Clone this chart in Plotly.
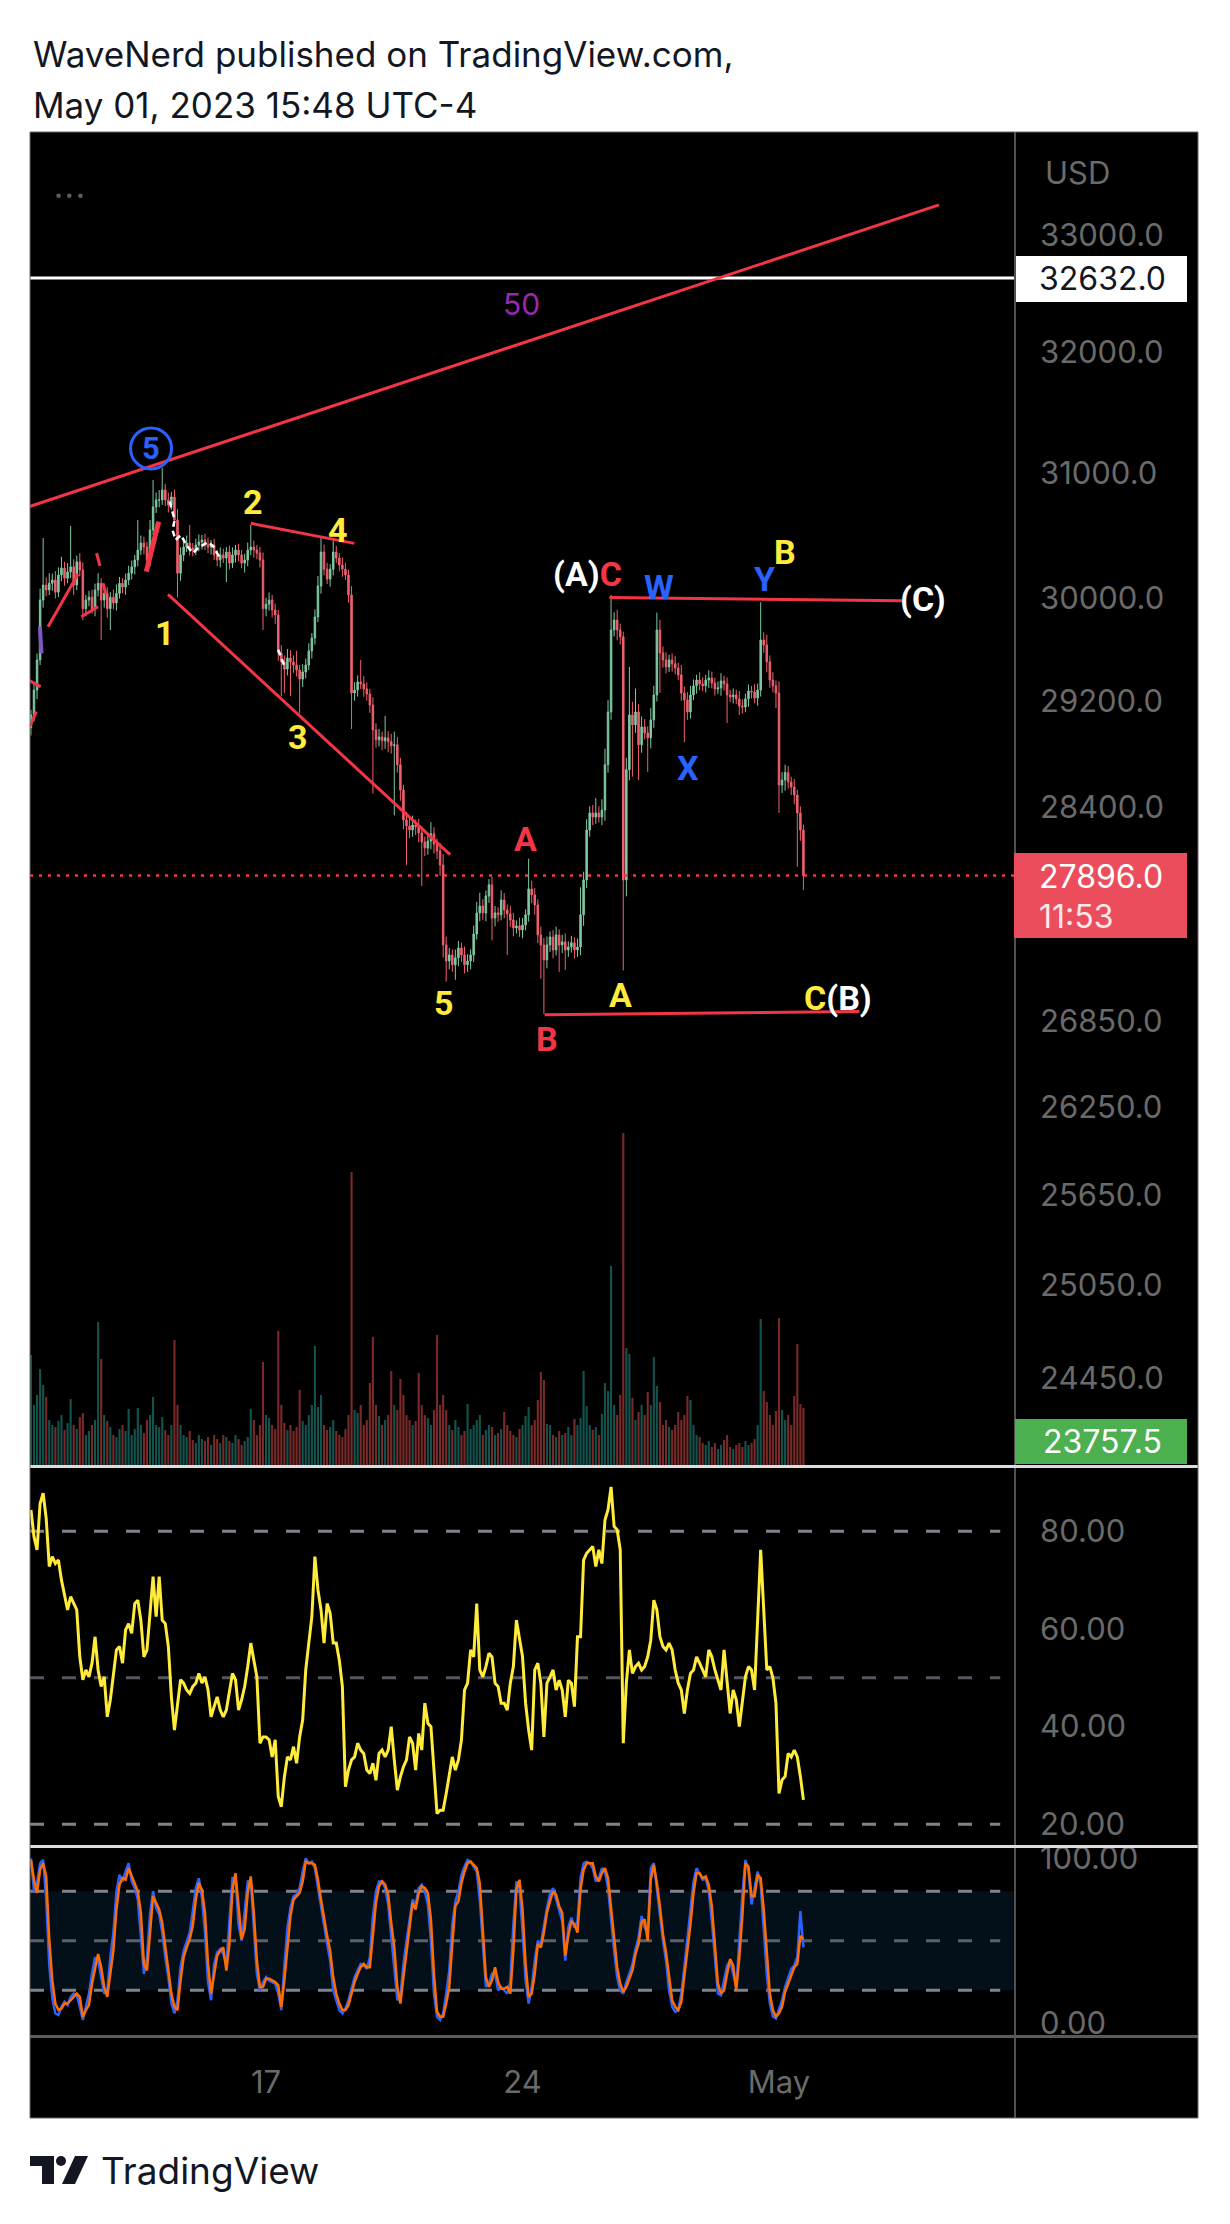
import math
import pandas as pd
import plotly.graph_objects as go

# ---------------- data ----------------
bar_start = "2023-04-10 14:00"
bar_freq = "2h"
first_open = 29000

closes = [
    29097, 29288, 29520, 29988, 30106, 30067, 30120, 30146, 30050, 30186,
    30240, 30160, 30210, 30250, 30106, 30290, 30225, 29920, 29988, 30010,
    29920, 30067, 30120, 29988, 30040, 29920, 30010, 29965, 30040, 30120,
    30090, 30146, 30200, 30250, 30305, 30384, 30440, 30408, 30305, 30544,
    30730, 30786, 30786, 30867, 30786, 30745, 30810, 30625, 30200, 30345,
    30408, 30440, 30400, 30384, 30424, 30448, 30464, 30424, 30408, 30424,
    30345, 30305, 30345, 30320, 30368, 30280, 30345, 30384, 30345, 30280,
    30305, 30384, 30408, 30384, 30360, 30305, 29920, 29955, 29988, 29910,
    29870, 29575, 29505, 29450, 29535, 29505, 29481, 29442, 29372, 29427,
    29481, 29590, 29690, 29855, 30098, 30368, 30232, 30154, 30232, 30368,
    30320, 30265, 30232, 30186, 30028, 29265, 29288, 29350, 29335, 29296,
    29257, 29173, 28983, 28908, 28930, 28900, 28923, 28893, 28863, 28870,
    28720, 28529, 28306, 28262, 28232, 28269, 28254, 28210, 28143, 28099,
    28150, 28203, 28128, 28077, 27974, 27393, 27278, 27321, 27250, 27300,
    27371, 27321, 27250, 27278, 27321, 27472, 27624, 27674, 27624, 27747,
    27828, 27587, 27624, 27610, 27718, 27645, 27617, 27573, 27515, 27530,
    27501, 27537, 27610, 27798, 27755, 27682, 27465, 27393, 27285, 27393,
    27450, 27357, 27465, 27393, 27415, 27357, 27378, 27408, 27357, 27378,
    27610, 27864, 28232, 28358, 28328, 28358, 28328, 28380, 28720, 29120,
    29753, 29831, 29753, 29700, 27864, 28682, 29097, 29021, 29120, 28870,
    29006, 28960, 28923, 29059, 29250, 29753, 29575, 29520, 29466, 29520,
    29490, 29458, 29404, 29265, 29212, 29120, 29250, 29320, 29365, 29335,
    29320, 29365, 29380, 29342, 29296, 29304, 29358, 29335, 29250, 29235,
    29250, 29220, 29166, 29158, 29220, 29280, 29273, 29227, 29288, 29675,
    29636, 29505, 29365, 29320, 29265, 28567, 28604, 28660, 28590, 28552,
    28492, 28358, 28232, 27896]

wick_up = [
    40, 60, 50, 90, 374, 60, 80, 50, 70, 60,
    90, 50, 70, 326, 60, 50, 70, 60, 40, 50,
    60, 50, 80, 40, 60, 50, 40, 60, 70, 50,
    40, 50, 60, 50, 40, 241, 60, 50, 40, 80,
    218, 60, 80, 178, 50, 60, 40, 60, 90, 60,
    50, 60, 144, 40, 50, 60, 40, 50, 60, 40,
    50, 40, 60, 50, 40, 50, 60, 40, 50, 40,
    50, 60, 176, 50, 40, 50, 60, 50, 60, 40,
    50, 40, 60, 50, 70, 60, 50, 110, 40, 60,
    50, 60, 40, 60, 80, 112, 60, 50, 40, 96,
    50, 40, 60, 50, 40, 70, 60, 50, 170, 60,
    50, 40, 60, 50, 60, 40, 167, 50, 60, 100,
    60, 50, 40, 60, 50, 70, 40, 60, 50, 40,
    60, 87, 50, 40, 60, 80, 60, 50, 40, 60,
    50, 40, 60, 50, 40, 60, 80, 96, 50, 40,
    42, 60, 50, 40, 70, 50, 40, 60, 50, 40,
    60, 50, 40, 222, 60, 50, 40, 60, 50, 60,
    40, 50, 60, 40, 50, 60, 40, 50, 40, 60,
    200, 60, 80, 50, 60, 112, 50, 80, 120, 90,
    274, 60, 80, 50, 40, 90, 369, 100, 180, 60,
    80, 60, 50, 90, 70, 137, 80, 50, 60, 40,
    50, 60, 40, 77, 50, 60, 70, 50, 40, 60,
    50, 40, 60, 50, 40, 50, 60, 40, 50, 40,
    50, 40, 60, 50, 40, 50, 40, 60, 50, 295,
    60, 80, 50, 60, 40, 90, 60, 60, 50, 40,
    60, 40, 50, 40]

wick_dn = [
    60, 50, 70, 40, 60, 50, 40, 60, 50, 40,
    50, 60, 40, 50, 80, 40, 50, 90, 60, 50,
    40, 60, 50, 313, 60, 70, 167, 50, 60, 40,
    50, 60, 40, 50, 60, 50, 40, 60, 70, 50,
    40, 50, 60, 40, 50, 60, 40, 50, 190, 60,
    50, 40, 60, 50, 40, 50, 60, 40, 50, 60,
    40, 50, 60, 40, 190, 50, 40, 60, 50, 40,
    75, 50, 40, 60, 50, 60, 167, 60, 50, 60,
    70, 60, 265, 185, 50, 263, 60, 50, 262, 60,
    50, 40, 60, 50, 40, 60, 50, 40, 60, 50,
    40, 50, 60, 40, 60, 275, 60, 50, 40, 60,
    50, 60, 480, 60, 50, 70, 60, 80, 60, 523,
    60, 80, 70, 288, 60, 50, 60, 70, 323, 60,
    50, 60, 70, 60, 80, 90, 148, 60, 50, 107,
    60, 50, 60, 50, 60, 50, 40, 60, 50, 60,
    50, 162, 60, 50, 40, 60, 297, 50, 60, 40,
    50, 60, 40, 50, 60, 70, 60, 243, 385, 60,
    50, 60, 40, 193, 60, 143, 50, 40, 60, 50,
    60, 80, 60, 50, 60, 50, 40, 60, 80, 60,
    60, 50, 80, 60, 654, 120, 80, 391, 60, 266,
    60, 50, 257, 80, 60, 50, 310, 60, 50, 40,
    60, 50, 40, 60, 322, 60, 50, 40, 60, 50,
    40, 50, 60, 40, 50, 40, 60, 50, 214, 40,
    50, 40, 69, 50, 40, 60, 50, 40, 60, 50,
    60, 80, 60, 50, 115, 209, 60, 80, 50, 60,
    70, 398, 80, 105]

volume = [
    110, 60, 70, 96, 80, 68, 45, 40, 38, 44,
    50, 35, 42, 66, 40, 36, 48, 52, 30, 34,
    40, 45, 143, 106, 50, 44, 38, 30, 28, 36,
    40, 34, 56, 30, 36, 57, 40, 32, 45, 50,
    68, 40, 38, 48, 35, 30, 40, 125, 60, 40,
    30, 28, 34, 25, 22, 30, 26, 24, 28, 20,
    30, 26, 22, 30, 28, 24, 22, 30, 26, 20,
    24, 28, 56, 45, 30, 40, 103, 50, 47, 40,
    36, 134, 60, 42, 35, 40, 34, 38, 75, 44,
    40, 50, 60, 119, 58, 70, 40, 35, 38, 45,
    34, 30, 28, 36, 50, 293, 55, 52, 60, 40,
    45, 82, 128, 60, 49, 40, 45, 50, 94, 60,
    55, 86, 70, 50, 45, 40, 44, 92, 60, 50,
    47, 40, 55, 130, 60, 70, 55, 40, 35, 45,
    38, 30, 34, 61, 36, 40, 45, 50, 30, 35,
    40, 38, 30, 32, 36, 53, 40, 34, 30, 28,
    36, 40, 49, 58, 40, 45, 65, 93, 85, 41,
    40, 30, 28, 34, 30, 32, 38, 30, 46, 40,
    47, 94, 59, 40, 35, 38, 30, 51, 82, 74,
    199, 60, 50, 70, 332, 117, 111, 67, 45, 53,
    60, 50, 73, 60, 108, 79, 63, 40, 45, 38,
    35, 40, 53, 45, 50, 69, 65, 40, 30, 28,
    22, 20, 24, 18, 22, 16, 20, 25, 30, 18,
    16, 20, 22, 18, 24, 20, 22, 26, 40, 146,
    74, 63, 50, 40, 54, 147, 55, 45, 50, 40,
    69, 121, 61, 57]

rsi = [
    84.4, 78.9, 76.2, 85.7, 87.8, 82.6, 72.8, 74.8, 73.4, 74.1,
    70.0, 66.6, 63.9, 66.6, 65.2, 63.9, 54.3, 49.6, 51.6, 50.2,
    53.0, 58.4, 51.6, 48.2, 50.2, 42.0, 45.5, 50.2, 55.7, 56.4,
    53.0, 59.8, 61.1, 59.1, 65.2, 65.9, 61.8, 54.3, 55.7, 63.2,
    70.7, 62.5, 70.7, 61.8, 61.1, 56.4, 46.1, 39.3, 44.8, 49.6,
    48.9, 47.5, 46.8, 48.2, 48.9, 50.9, 48.9, 50.2, 47.5, 42.0,
    44.1, 46.1, 43.4, 42.0, 43.4, 47.5, 50.9, 49.6, 43.4, 45.5,
    48.2, 52.3, 57.1, 53.6, 50.2, 36.6, 37.9, 37.9, 37.3, 33.8,
    37.3, 25.7, 23.6, 29.7, 33.8, 33.2, 35.9, 32.5, 37.9, 41.4,
    51.6, 57.1, 62.5, 74.8, 68.0, 63.9, 57.1, 65.2, 63.2, 57.1,
    57.1, 53.6, 48.2, 27.7, 31.1, 33.2, 33.8, 36.6, 35.2, 34.5,
    31.1, 30.4, 32.5, 29.0, 34.5, 35.2, 33.8, 35.2, 40.0, 33.2,
    27.0, 29.7, 31.8, 33.2, 37.9, 36.6, 31.1, 38.6, 35.2, 44.8,
    40.7, 40.0, 31.1, 22.2, 22.9, 22.9, 26.3, 30.4, 33.8, 31.1,
    33.2, 37.3, 47.5, 48.9, 55.7, 54.3, 65.2, 51.6, 50.2, 52.3,
    55.0, 54.3, 48.9, 48.2, 44.8, 44.8, 43.4, 48.9, 52.3, 61.8,
    57.7, 54.3, 44.8, 39.3, 35.2, 51.6, 53.0, 48.9, 37.9, 48.9,
    50.2, 51.6, 47.5, 49.5, 47.5, 42.0, 49.5, 48.9, 44.1, 58.4,
    58.4, 74.1, 75.5, 76.2, 76.9, 72.8, 76.2, 73.4, 82.3, 84.4,
    89.1, 81.0, 80.3, 76.2, 36.6, 48.9, 55.7, 50.9, 52.3, 53.0,
    51.6, 52.3, 54.3, 57.7, 65.9, 63.9, 58.4, 56.4, 55.7, 57.1,
    55.7, 51.6, 48.9, 47.5, 42.7, 47.5, 50.9, 51.6, 54.3, 53.0,
    51.6, 50.2, 55.7, 54.3, 51.6, 49.5, 47.5, 55.7, 48.9, 42.7,
    47.5, 45.5, 40.0, 44.8, 50.2, 52.3, 51.6, 47.5, 62.5, 76.2,
    63.9, 51.6, 52.3, 50.0, 44.8, 26.3, 29.1, 29.8, 34.5, 33.8,
    35.2, 33.8, 29.8, 25.0]

stoch_k = [
    100, 80, 85, 97, 99, 75, 35, 15, 6, 5,
    10, 13, 11, 16, 18, 17, 10, 2, 10, 18,
    30, 40, 38, 28, 18, 20, 40, 55, 80, 90,
    86, 92, 97, 86, 82, 75, 50, 30, 40, 66,
    80, 70, 66, 55, 40, 28, 12, 6, 14, 34,
    44, 49, 55, 68, 82, 88, 76, 55, 25, 14,
    36, 43, 45, 42, 35, 62, 88, 88, 60, 50,
    66, 86, 86, 55, 30, 20, 25, 28, 26, 25,
    24, 18, 8, 35, 58, 70, 77, 78, 82, 92,
    100, 97, 98, 94, 82, 70, 58, 48, 38, 20,
    14, 8, 6, 9, 14, 22, 28, 32, 36, 35,
    33, 40, 65, 80, 86, 86, 82, 72, 54, 35,
    14, 16, 36, 50, 64, 75, 72, 82, 84, 80,
    72, 50, 18, 4, 2, 6, 18, 32, 60, 74,
    80, 90, 95, 99, 98, 95, 92, 75, 45, 22,
    24, 30, 30, 20, 22, 20, 18, 25, 60, 86,
    82, 56, 26, 12, 22, 38, 50, 48, 60, 70,
    78, 82, 75, 68, 62, 38, 58, 64, 58, 62,
    88, 97, 98, 97, 94, 86, 88, 94, 92, 82,
    62, 44, 28, 20, 18, 25, 30, 36, 45, 52,
    65, 58, 55, 94, 97, 80, 66, 50, 38, 20,
    10, 7, 8, 18, 34, 52, 68, 86, 94, 90,
    87, 88, 80, 62, 38, 18, 17, 25, 35, 38,
    30, 22, 50, 78, 99, 92, 72, 82, 92, 84,
    58, 30, 12, 4, 3, 8, 14, 22, 28, 33,
    35, 40, 68, 46]

stoch_d = [
    99, 87, 79, 93, 97, 89, 51, 26, 12, 8,
    9, 12, 12, 14, 16, 18, 16, 4, 8, 11,
    24, 34, 42, 34, 22, 16, 32, 44, 69, 84,
    88, 87, 94, 89, 84, 80, 67, 36, 32, 53,
    77, 73, 69, 61, 46, 34, 18, 10, 8, 26,
    40, 46, 51, 59, 75, 85, 81, 67, 36, 18,
    30, 41, 44, 46, 32, 48, 81, 91, 71, 51,
    57, 79, 89, 67, 38, 22, 22, 27, 27, 26,
    25, 23, 10, 26, 48, 65, 75, 77, 79, 86,
    98, 97, 97, 96, 87, 75, 63, 53, 44, 28,
    18, 12, 8, 8, 11, 18, 25, 30, 34, 36,
    34, 34, 55, 73, 83, 86, 84, 78, 61, 46,
    22, 12, 28, 42, 57, 73, 69, 79, 83, 82,
    79, 63, 30, 7, 4, 4, 12, 22, 48, 71,
    74, 85, 92, 97, 98, 96, 94, 85, 57, 28,
    22, 26, 34, 25, 21, 21, 22, 18, 44, 81,
    87, 69, 36, 16, 18, 30, 48, 46, 55, 67,
    74, 80, 78, 71, 67, 41, 53, 62, 60, 55,
    81, 93, 97, 97, 97, 89, 86, 91, 94, 88,
    71, 53, 34, 24, 19, 22, 27, 32, 42, 48,
    61, 63, 50, 87, 96, 85, 71, 54, 43, 27,
    14, 10, 8, 13, 28, 44, 60, 79, 91, 91,
    88, 89, 84, 71, 48, 24, 18, 20, 30, 39,
    35, 20, 40, 65, 97, 95, 77, 77, 90, 88,
    69, 40, 18, 8, 4, 6, 10, 19, 24, 30,
    34, 36, 53, 51]

price_ticks = [33000, 32000, 31000, 30000, 29200, 28400, 26850, 26250, 25650, 25050, 24450]
rsi_ticks = [80, 60, 40, 20]
rsi_levels = [80, 50, 20]
stoch_ticks = [100, 0]
stoch_levels = [80, 50, 20]
date_ticks = ["2023-04-17", "2023-04-24", "2023-05-01"]
date_tick_labels = ["17", "24", "May"]

last_price = 27896.0
countdown = "11:53"
hline_price = 32632.0
green_label_value = 23757.5

# wave labels: text, time, price, colour key
label_text = ["2", "4", "1", "3", "5", "A", "B", "W", "Y", "B", "(C)", "X", "A"]
label_time = ["2023-04-16 15:27", "2023-04-18 23:17", "2023-04-14 06:00", "2023-04-17 21:04",
              "2023-04-21 20:30", "2023-04-24 01:57", "2023-04-24 16:02",
              "2023-04-27 17:04", "2023-04-30 14:38", "2023-05-01 03:50",
              "2023-05-04 22:12", "2023-04-28 12:04", "2023-04-26 16:11"]
label_price = [30772, 30542, 29727, 28929, 26975, 28163, 26724, 30091, 30154,
               30370, 29996, 28692, 27038]
label_color = ["y", "y", "y", "y", "y", "r", "r", "b", "b", "y", "w", "b", "y"]
ac_time, ac_price = "2023-04-25 18:14", 30190          # "(A)" white + "C" red
cb_time, cb_price = "2023-05-02 14:46", 27014          # "C" yellow + "(B)" white
circle5_time, circle5_price = "2023-04-13 20:40", 31205
fifty_time, fifty_price = "2023-04-23 23:00", 32411

# trend lines drawn on the chart (time, price pairs, None = break)
red_t = ["2023-04-10 12:04", "2023-05-05 08:48", None,
         "2023-04-16 13:57", "2023-04-19 09:52", None,
         "2023-04-14 07:47", "2023-04-22 00:33", None,
         "2023-04-26 08:56", "2023-05-04 08:27", None,
         "2023-04-24 14:28", "2023-05-03 04:40", None,
         "2023-04-11 01:11", "2023-04-11 20:50", None,
         "2023-04-11 23:00", "2023-04-12 09:56", None,
         "2023-04-12 08:58", "2023-04-12 11:14", None,
         "2023-04-12 13:12", "2023-04-12 15:10", None,
         "2023-04-10 12:04", "2023-04-10 20:24", None,
         "2023-04-10 13:10", "2023-04-10 17:31"]
red_p = [30729, 33264, None,
         30598, 30437, None,
         30033, 28049, None,
         30008, 29983, None,
         26896, 26919, None,
         29779, 30194, None,
         29857, 29936, None,
         30360, 30257, None,
         30122, 30035, None,
         29365, 29314, None,
         29007, 29122]
thick_t = ["2023-04-13 17:34", "2023-04-14 01:41"]
thick_p = [30212, 30611]
purple_t = ["2023-04-10 19:52", "2023-04-10 20:55"]
purple_p = [29779, 29572]
white_t = ["2023-04-14 08:53", "2023-04-14 12:10", "2023-04-14 10:44", "2023-04-14 12:42",
           "2023-04-14 16:18", "2023-04-14 20:13", "2023-04-15 00:10", "2023-04-15 03:26",
           "2023-04-15 09:59", "2023-04-15 13:15", "2023-04-15 18:30", None,
           "2023-04-17 07:58", "2023-04-17 12:45"]
white_p = [30772, 30625, 30544, 30464, 30504, 30416, 30360, 30400, 30448, 30416, 30305, None,
           29599, 29452]

# ---------------- styling / layout geometry ----------------
FIG_W, FIG_H = 1230, 2224
LEFT, RIGHT, TOP, BOTTOM = 30, 1198, 132, 2036
AXIS_X = 1015
FRAME_BOTTOM = 2118


def fx(p):
    return (p - LEFT) / (RIGHT - LEFT)


def fy(p):
    return (BOTTOM - p) / (BOTTOM - TOP)


GREEN = "#7fc9a3"
RED = "#f0606e"
VOL_UP = "rgba(38,166,154,0.5)"
VOL_DN = "rgba(239,83,80,0.5)"
TICK_GRAY = "#6a6a6a"
COL = {"y": "#ffeb3b", "r": "#f23645", "w": "#ffffff", "b": "#2962ff"}
TRED = "#f23645"
FONT = "Inter, Roboto, sans-serif"
LFONT = "Roboto, Inter, sans-serif"
LSIZE = 34
BOXSIZE = 32

times = pd.date_range(bar_start, periods=len(closes), freq=bar_freq)
opens = [first_open] + closes[:-1]
highs = [max(o, c) + w for o, c, w in zip(opens, closes, wick_up)]
lows = [min(o, c) - w for o, c, w in zip(opens, closes, wick_dn)]
vol_colors = [VOL_UP if c >= o else VOL_DN for o, c in zip(opens, closes)]

x_range = ["2023-04-10 13:23", "2023-05-07 10:35"]
xdom = [0, fx(AXIS_X)]
main_dom = [fy(1465), 1]
rsi_dom = [fy(1845), fy(1468)]
sto_dom = [0, fy(1848)]
price_range = [math.log10(23898), math.log10(33907)]

fig = go.Figure()

fig.add_trace(go.Bar(x=times, y=volume, marker=dict(color=vol_colors, line=dict(width=0)),
                     width=0.7 * 7.2e6, xaxis="x", yaxis="y2", hoverinfo="skip"))
fig.add_trace(go.Candlestick(x=times, open=opens, high=highs, low=lows, close=closes,
                             increasing=dict(line=dict(color=GREEN, width=1), fillcolor=GREEN),
                             decreasing=dict(line=dict(color=RED, width=1), fillcolor=RED),
                             whiskerwidth=0, xaxis="x", yaxis="y", hoverinfo="skip"))

# horizontal lines
fig.add_trace(go.Scatter(x=x_range, y=[hline_price, hline_price], mode="lines",
                         line=dict(color="white", width=3), xaxis="x", yaxis="y", hoverinfo="skip"))
fig.add_trace(go.Scatter(x=x_range, y=[last_price, last_price], mode="lines",
                         line=dict(color=TRED, width=2.5, dash="3px,6px"), xaxis="x", yaxis="y",
                         hoverinfo="skip"))
# drawings
fig.add_trace(go.Scatter(x=red_t, y=red_p, mode="lines", line=dict(color=TRED, width=3),
                         connectgaps=False, xaxis="x", yaxis="y", hoverinfo="skip"))
fig.add_trace(go.Scatter(x=thick_t, y=thick_p, mode="lines", line=dict(color=TRED, width=5),
                         xaxis="x", yaxis="y", hoverinfo="skip"))
fig.add_trace(go.Scatter(x=purple_t, y=purple_p, mode="lines", line=dict(color="#7e57c2", width=4),
                         xaxis="x", yaxis="y", hoverinfo="skip"))
fig.add_trace(go.Scatter(x=white_t, y=white_p, mode="lines",
                         line=dict(color="white", width=2.5, dash="6px,4px"),
                         connectgaps=False, xaxis="x", yaxis="y", hoverinfo="skip"))
fig.add_trace(go.Scatter(x=[circle5_time], y=[circle5_price], mode="markers",
                         marker=dict(symbol="circle-open", size=41, color="#2962ff",
                                     line=dict(width=3, color="#2962ff")),
                         xaxis="x", yaxis="y", hoverinfo="skip"))

# RSI
fig.add_trace(go.Scatter(x=times, y=rsi, mode="lines", line=dict(color="#ffeb3b", width=3),
                         xaxis="x2", yaxis="y3", hoverinfo="skip"))
# Stochastic
fig.add_trace(go.Scatter(x=times, y=stoch_k, mode="lines", line=dict(color="#2962ff", width=2.5),
                         xaxis="x3", yaxis="y4", hoverinfo="skip"))
fig.add_trace(go.Scatter(x=times, y=stoch_d, mode="lines", line=dict(color="#ff6d00", width=2.5),
                         xaxis="x3", yaxis="y4", hoverinfo="skip"))

axis_common = dict(showgrid=False, zeroline=False, showline=False, ticks="")
tickfont = dict(family=FONT, size=31, color=TICK_GRAY)

fig.update_layout(
    width=FIG_W, height=FIG_H, autosize=False,
    margin=dict(l=LEFT, r=FIG_W - RIGHT, t=TOP, b=FIG_H - BOTTOM, pad=0),
    paper_bgcolor="white", plot_bgcolor="black", showlegend=False,
    font=dict(family=FONT, size=31, color=TICK_GRAY),
    xaxis=dict(domain=xdom, range=x_range, type="date", anchor="y", showticklabels=False,
               rangeslider=dict(visible=False), **axis_common),
    xaxis2=dict(domain=xdom, range=x_range, type="date", anchor="y3", matches="x",
                showticklabels=False, **axis_common),
    xaxis3=dict(domain=xdom, range=x_range, type="date", anchor="y4", matches="x",
                tickmode="array", tickvals=date_ticks, ticktext=date_tick_labels,
                tickfont=tickfont, ticklabelstandoff=25, **axis_common),
    yaxis=dict(domain=main_dom, type="log", range=price_range, side="right", anchor="x",
               tickmode="array", tickvals=price_ticks,
               ticktext=[f"{v:.1f}" for v in price_ticks], tickfont=tickfont,
               ticklabelstandoff=24, **axis_common),
    yaxis2=dict(domain=main_dom, overlaying="y", range=[0, 1333], visible=False, anchor="x"),
    yaxis3=dict(domain=rsi_dom, range=[15.76, 92.96], side="right", anchor="x2",
                tickmode="array", tickvals=rsi_ticks, ticktext=[f"{v:.2f}" for v in rsi_ticks],
                tickfont=tickfont, ticklabelstandoff=24, **axis_common),
    yaxis4=dict(domain=sto_dom, range=[-7.70, 106.24], side="right", anchor="x3",
                tickmode="array", tickvals=stoch_ticks,
                tickfont=tickfont, ticktext=[f"{v:.2f}" for v in stoch_ticks],
                ticklabelstandoff=24, **axis_common),
)

shapes = []
# black chart frame (covers price-axis column too)
shapes.append(dict(type="rect", xref="paper", yref="paper", x0=fx(LEFT), x1=fx(RIGHT),
                   y0=fy(FRAME_BOTTOM), y1=fy(TOP), fillcolor="black", line=dict(width=0),
                   layer="below"))
# stochastic band
shapes.append(dict(type="rect", xref="x3 domain", yref="y4", x0=0, x1=1, y0=20, y1=80,
                   fillcolor="rgba(33,150,243,0.10)", line=dict(width=0), layer="below"))
for lv in rsi_levels:
    shapes.append(dict(type="line", xref="x2 domain", yref="y3", x0=0, x1=0.985, y0=lv, y1=lv,
                       line=dict(color="#80828c" if lv != 50 else "#55575e", width=3,
                                 dash="14px,18px"), layer="below"))
for lv in stoch_levels:
    shapes.append(dict(type="line", xref="x3 domain", yref="y4", x0=0, x1=0.985, y0=lv, y1=lv,
                       line=dict(color="#80828c" if lv != 50 else "#5e6068", width=3,
                                 dash="14px,18px"), layer="below"))
# frame lines
shapes.append(dict(type="line", xref="paper", yref="paper", x0=fx(AXIS_X), x1=fx(AXIS_X),
                   y0=fy(FRAME_BOTTOM), y1=fy(TOP), line=dict(color="#505050", width=2)))
for sep in (1466.5, 1846.5):
    shapes.append(dict(type="line", xref="paper", yref="paper", x0=fx(LEFT), x1=fx(RIGHT),
                       y0=fy(sep), y1=fy(sep), line=dict(color="#dcdde3", width=3)))
shapes.append(dict(type="line", xref="paper", yref="paper", x0=fx(LEFT), x1=fx(RIGHT),
                   y0=fy(2036.5), y1=fy(2036.5), line=dict(color="#5a5a5a", width=3)))
shapes.append(dict(type="rect", xref="paper", yref="paper", x0=fx(LEFT), x1=fx(RIGHT),
                   y0=fy(FRAME_BOTTOM), y1=fy(TOP), line=dict(color="#6a6a6a", width=1)))
# price-axis label boxes
shapes.append(dict(type="rect", xref="paper", yref="paper", x0=fx(1016), x1=fx(1187),
                   y0=fy(302), y1=fy(256), fillcolor="white", line=dict(width=0)))
shapes.append(dict(type="rect", xref="paper", yref="paper", x0=fx(1014), x1=fx(1187),
                   y0=fy(938), y1=fy(853), fillcolor="#eb4d5c", line=dict(width=0)))
shapes.append(dict(type="rect", xref="paper", yref="paper", x0=fx(1015), x1=fx(1187),
                   y0=fy(1464), y1=fy(1419), fillcolor="#4caf50", line=dict(width=0)))
# "..." menu dots
for dx in (58.6, 69.3, 80.4):
    shapes.append(dict(type="circle", xref="paper", yref="paper", x0=fx(dx - 2.3), x1=fx(dx + 2.3),
                       y0=fy(195.7 + 2.3), y1=fy(195.7 - 2.3), fillcolor="#5d5d5d",
                       line=dict(width=0)))
# TradingView logo mark


def path(pts):
    return "M " + " L ".join(f"{fx(a):.5f},{fy(b):.5f}" for a, b in pts) + " Z"


LOGO = "#131722"
shapes.append(dict(type="path", xref="paper", yref="paper",
                   path=path([(30, 2156), (54, 2156), (54, 2184), (42, 2184), (42, 2166), (30, 2166)]),
                   fillcolor=LOGO, line=dict(width=0)))
shapes.append(dict(type="circle", xref="paper", yref="paper", x0=fx(56), x1=fx(66),
                   y0=fy(2166), y1=fy(2156), fillcolor=LOGO, line=dict(width=0)))
shapes.append(dict(type="path", xref="paper", yref="paper",
                   path=path([(62, 2184), (75, 2184), (88, 2156), (75, 2156)]),
                   fillcolor=LOGO, line=dict(width=0)))

annotations = []
for t, tm, pr, ck in zip(label_text, label_time, label_price, label_color):
    annotations.append(dict(x=tm, y=math.log10(pr), xref="x", yref="y", text=f"<b>{t}</b>",
                            showarrow=False, font=dict(family=LFONT, size=LSIZE, color=COL[ck]),
                            xanchor="center", yanchor="middle"))
annotations.append(dict(x=ac_time, y=math.log10(ac_price), xref="x", yref="y",
                        text=f"<b>(A)<span style='color:{COL['r']}'>C</span></b>",
                        showarrow=False, font=dict(family=LFONT, size=LSIZE, color="white"),
                        xanchor="center", yanchor="middle"))
annotations.append(dict(x=cb_time, y=math.log10(cb_price), xref="x", yref="y",
                        text=f"<b><span style='color:{COL['y']}'>C</span>(B)</b>",
                        showarrow=False, font=dict(family=LFONT, size=LSIZE, color="white"),
                        xanchor="center", yanchor="middle"))
annotations.append(dict(x=circle5_time, y=math.log10(circle5_price), xref="x", yref="y",
                        text="<b>5</b>", showarrow=False,
                        font=dict(family=LFONT, size=31, color="#2962ff"),
                        xanchor="center", yanchor="middle"))
annotations.append(dict(x=fifty_time, y=math.log10(fifty_price), xref="x", yref="y", text="50",
                        showarrow=False, font=dict(family=FONT, size=30, color="#9c27b0"),
                        xanchor="center", yanchor="middle"))

# header / footer / axis extras (paper coords)
annotations.append(dict(x=fx(31), y=fy(54), xref="paper", yref="paper", xanchor="left",
                        yanchor="middle", showarrow=False,
                        text="WaveNerd published on TradingView.com,",
                        font=dict(family=FONT, size=35, color="#131722")))
annotations.append(dict(x=fx(31), y=fy(105), xref="paper", yref="paper", xanchor="left",
                        yanchor="middle", showarrow=False, text="May 01, 2023 15:48 UTC-4",
                        font=dict(family=FONT, size=35, color="#131722")))
annotations.append(dict(x=fx(99), y=fy(2170), xref="paper", yref="paper", xanchor="left",
                        yanchor="middle", showarrow=False, text="TradingView",
                        font=dict(family=FONT, size=37, color="#131722")))
annotations.append(dict(x=fx(1043), y=fy(172), xref="paper", yref="paper", xanchor="left",
                        yanchor="middle", showarrow=False, text="USD",
                        font=dict(family=FONT, size=31, color=TICK_GRAY)))
annotations.append(dict(x=fx(1102), y=fy(279), xref="paper", yref="paper", xanchor="center",
                        yanchor="middle", showarrow=False, text=f"{hline_price:.1f}",
                        font=dict(family=FONT, size=BOXSIZE, color="#131722")))
annotations.append(dict(x=fx(1037), y=fy(876), xref="paper", yref="paper", xanchor="left",
                        yanchor="middle", showarrow=False, text=f"{last_price:.1f}",
                        font=dict(family=FONT, size=BOXSIZE, color="white")))
annotations.append(dict(x=fx(1037), y=fy(916), xref="paper", yref="paper", xanchor="left",
                        yanchor="middle", showarrow=False, text=countdown,
                        font=dict(family=FONT, size=BOXSIZE, color="#fde8ea")))
annotations.append(dict(x=fx(1102), y=fy(1441), xref="paper", yref="paper", xanchor="center",
                        yanchor="middle", showarrow=False, text=f"{green_label_value:.1f}",
                        font=dict(family=FONT, size=BOXSIZE, color="white")))

fig.update_layout(shapes=shapes, annotations=annotations)

fig.write_html("out.html", config={"displayModeBar": False},
               post_script="document.body.style.margin='0';")
